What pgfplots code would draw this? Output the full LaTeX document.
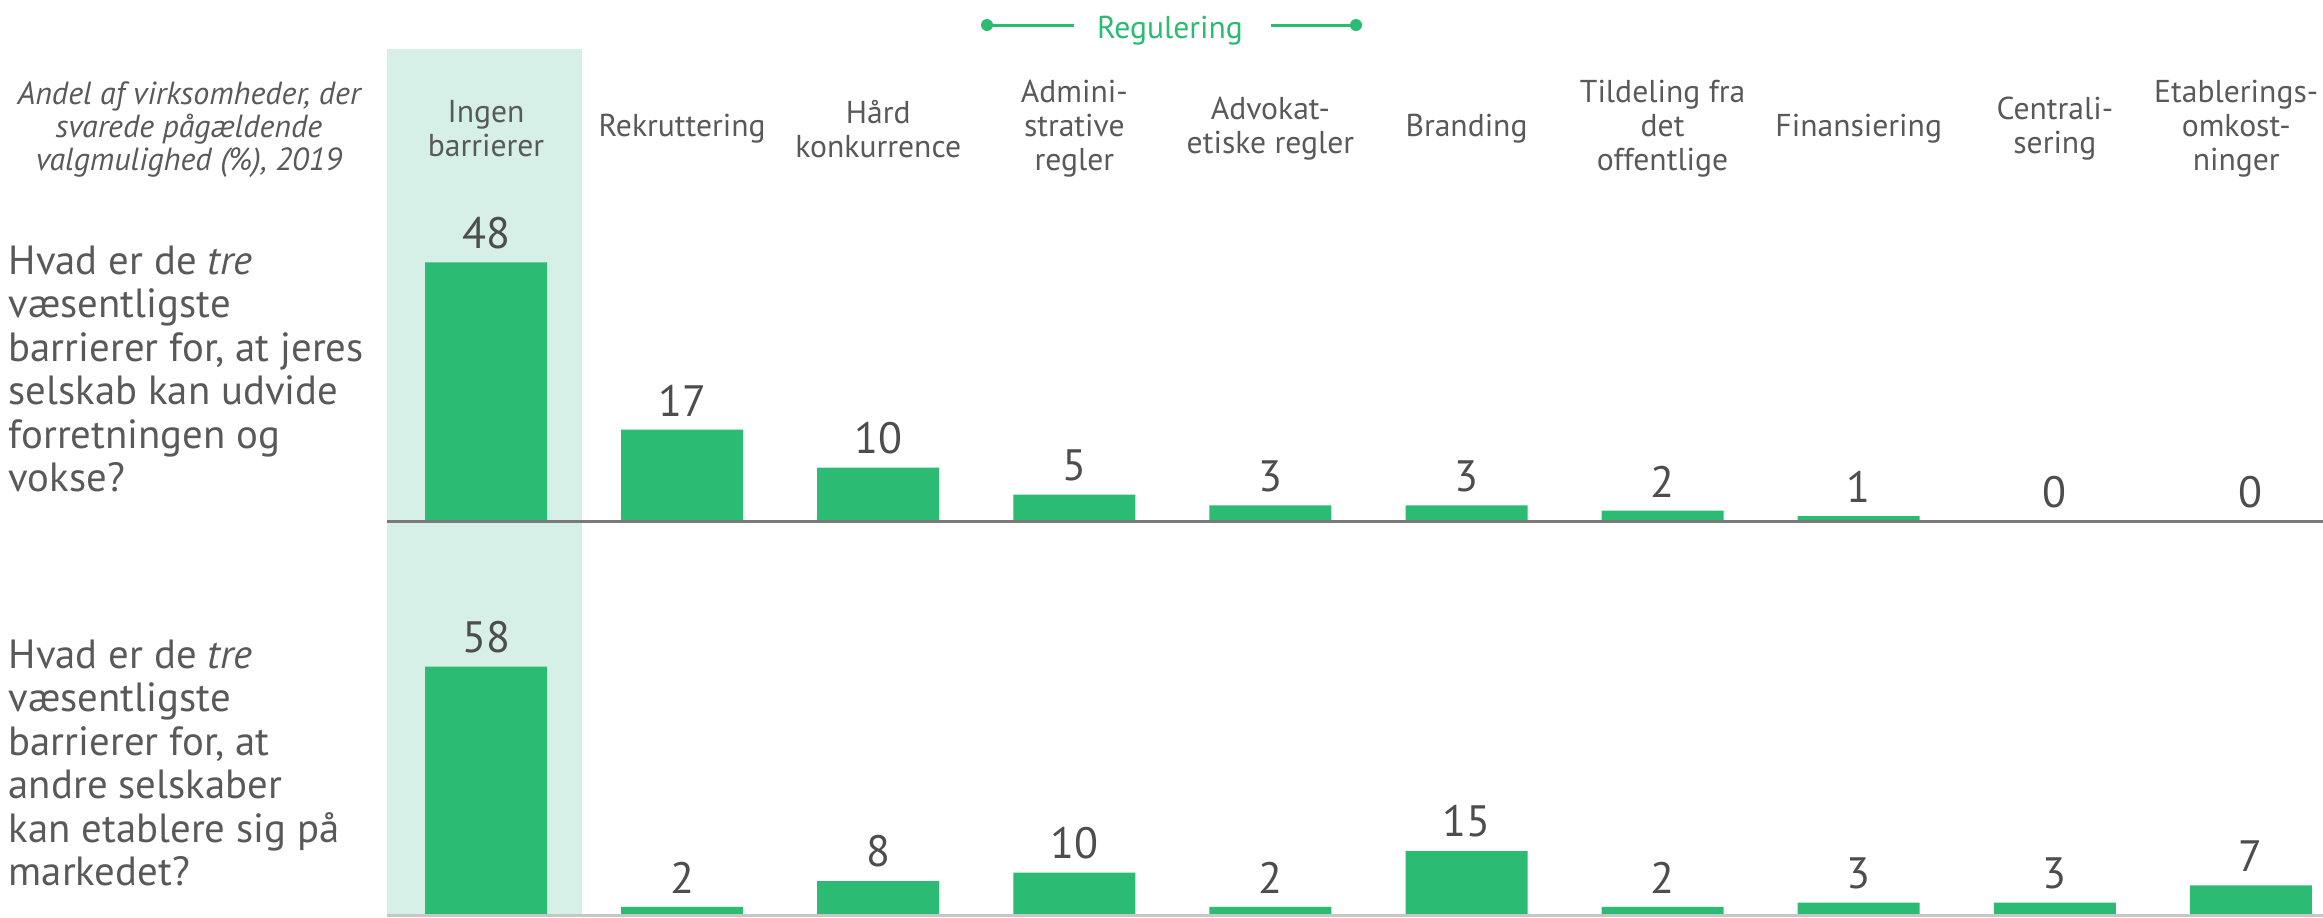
\documentclass[border=0pt]{standalone}
\usepackage{fontspec}
\setmainfont{PT Sans}
\usepackage{pgfplots}
\pgfplotsset{compat=1.18}
\definecolor{barGreen}{HTML}{2BBB73}
\definecolor{bandMint}{HTML}{D6EFE7}
\definecolor{txtGray}{HTML}{595959}
\definecolor{numGray}{HTML}{4D4D4D}

\pgfplotsset{
  panel/.style={
    scale only axis, anchor=south west,
    x=19.61mm, xmin=-0.505, xmax=9.367, ymin=0,
    axis line style={draw=none}, ytick=\empty,
    major tick length=0pt,
    clip=false, ybar, bar width=12.2mm, bar shift=0pt,
    nodes near coords,
    /pgf/number format/assume math mode=true,
    every node near coord/.append style={font=\fontsize{12.5}{14}\selectfont,
      text=numGray, anchor=south, inner sep=0pt, yshift=1.3mm},
  },
}

\begin{document}
\begin{tikzpicture}
  \useasboundingbox (0,0) rectangle (232.3mm,-91.7mm);

  % highlighted first category
  \fill[bandMint] (38.7mm,-4.9mm) rectangle (58.2mm,-91.7mm);

  % header
  \draw[barGreen, line width=0.3mm] (98.7mm,-2.5mm) -- (107.4mm,-2.5mm);
  \draw[barGreen, line width=0.3mm] (127.1mm,-2.5mm) -- (135.6mm,-2.5mm);
  \fill[barGreen] (98.7mm,-2.5mm) circle (0.6mm);
  \fill[barGreen] (135.6mm,-2.5mm) circle (0.6mm);
  \node[text=barGreen, font=\fontsize{9}{10}\selectfont, anchor=mid] at (117mm,-3.0mm) {Regulering};

  \node[align=center, font=\itshape\fontsize{9.1}{9.4}\selectfont, text=txtGray]
    at (18.9mm,-13.0mm) {Andel af virksomheder, der\\svarede pågældende\\valgmulighed (\%), 2019};

  \node[anchor=west, align=left, inner sep=0pt, font=\fontsize{11.6}{12.4}\selectfont, text=txtGray]
    at (0.8mm,-36.9mm) {Hvad er de \emph{tre}\\væsentligste\\barrierer for, at jeres\\selskab kan udvide\\forretningen og\\vokse?};
  \node[anchor=west, align=left, inner sep=0pt, font=\fontsize{11.6}{12.4}\selectfont, text=txtGray]
    at (0.8mm,-76.3mm) {Hvad er de \emph{tre}\\væsentligste\\barrierer for, at\\andre selskaber\\kan etablere sig på\\markedet?};

  % upper panel
  \begin{axis}[panel, at={(38.7mm,-52.15mm)}, y=0.540mm, ymax=72.7,
    xtick={0,1,2,3,4,5,6,7,8,8.925}, xticklabel pos=upper,
    xticklabels={{Ingen\\barrierer}, Rekruttering, {Hård\\konkurrence},
      {Admini-\\strative\\regler}, {Advokat-\\etiske regler}, Branding,
      {Tildeling fra\\det\\offentlige}, Finansiering, {Centrali-\\sering},
      {Etablerings-\\omkost-\\ninger}},
    xticklabel style={anchor=center, align=center, inner sep=0pt,
      font=\fontsize{9}{9.7}\selectfont, text=txtGray}]
    \addplot[fill=barGreen, draw=none] coordinates {
      (0,48) (1,17) (2,10) (3,5) (4,3) (5,3) (6,2) (7,1) (8,0) (9,0)
    };
    \draw[color=black!52, line width=0.3mm] (axis cs:-0.505,0) -- (axis cs:9.367,0);
  \end{axis}

  % lower panel
  \begin{axis}[panel, at={(38.7mm,-91.55mm)}, y=0.429mm, ymax=60, xtick=\empty]
    \addplot[fill=barGreen, draw=none] coordinates {
      (0,58) (1,2) (2,8) (3,10) (4,2) (5,15) (6,2) (7,3) (8,3) (9,7)
    };
    \draw[color=black!22, line width=0.25mm] (axis cs:-0.505,0) -- (axis cs:9.367,0);
  \end{axis}
\end{tikzpicture}
\end{document}
